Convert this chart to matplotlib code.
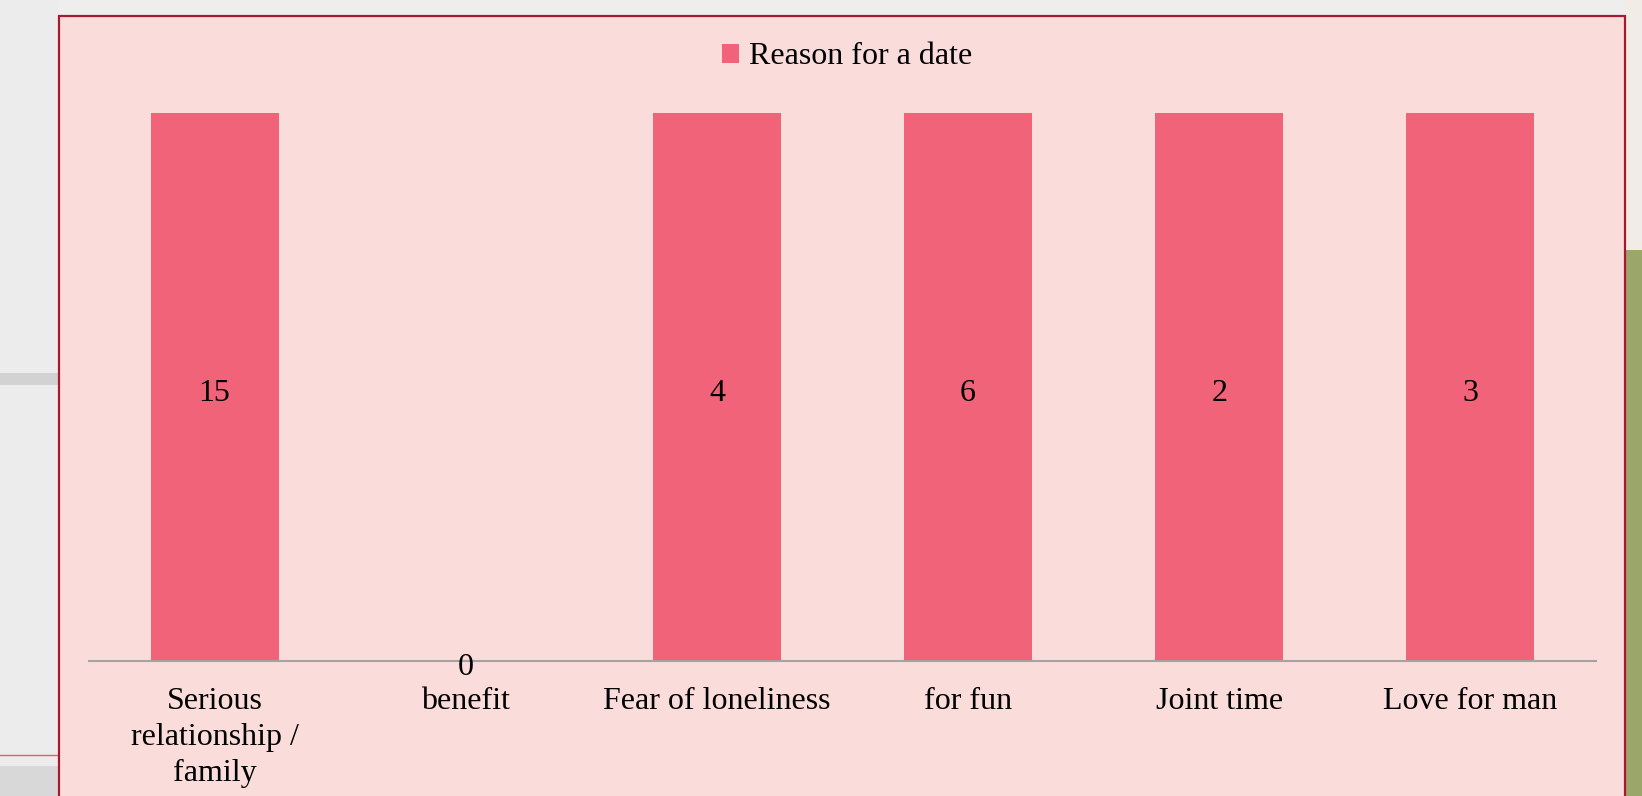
"""
Bar chart: reasons for a date (survey counts), pink slide style.
"""

import matplotlib
matplotlib.use("Agg")
import matplotlib.pyplot as plt
from matplotlib.patches import Rectangle
from matplotlib.lines import Line2D

# ── data ────────────────────────────────────────────────────────────────────
categories = ["Serious\nrelationship /\nfamily", "benefit", "Fear of loneliness",
              "for fun", "Joint time", "Love for man"]
counts = [15, 0, 4, 6, 2, 3]
series_name = "Reason for a date"
y_max = 1  # axis maximum of the original chart; taller bars are cut at the top

BG_CHART = "#FADCDB"
BAR = "#F06378"
BORDER = "#A8192E"
AXIS = "#A3A3A3"

plt.rcParams.update({
    "font.family": ["Liberation Serif", "DejaVu Serif"],
    "font.size": 23,
})

W, H = 1642, 796
fig = plt.figure(figsize=(W / 100, H / 100), dpi=100)
fig.patch.set_facecolor("#EEEEEE")

# ── slide background (rough stand-in for the photo behind the chart) ────────
fig.add_artist(Rectangle((0, 0), 59 / W, 1, transform=fig.transFigure,
                         facecolor="#ECECEC", edgecolor="none", zorder=-3))
fig.add_artist(Rectangle((0, 1 - 385 / H), 59 / W, 12 / H, transform=fig.transFigure,
                         facecolor="#D2D2D2", edgecolor="none", zorder=-3))
fig.add_artist(Rectangle((0, 0), 59 / W, 30 / H, transform=fig.transFigure,
                         facecolor="#D8D8D8", edgecolor="none", zorder=-3))
fig.add_artist(Rectangle((1625 / W, 0), 17 / W, 1, transform=fig.transFigure,
                         facecolor="#F1EDE6", edgecolor="none", zorder=-3))
fig.add_artist(Rectangle((1625 / W, 0), 17 / W, 1 - 250 / H, transform=fig.transFigure,
                         facecolor="#9AA66A", edgecolor="none", zorder=-3))
fig.add_artist(Line2D([0, 59 / W], [1 - 755 / H] * 2, transform=fig.transFigure,
                      color="#F05A5A", linewidth=1, zorder=-2))

# chart box
fig.add_artist(Rectangle((59 / W, -0.05), (1625 - 59) / W, 1.05 - 16 / H,
                         transform=fig.transFigure, facecolor=BG_CHART,
                         edgecolor=BORDER, linewidth=1.6, zorder=-1))

# ── bars ────────────────────────────────────────────────────────────────────
ax = fig.add_axes([89 / W, 1 - 661 / H, (1596 - 89) / W, (661 - 113) / H])
ax.set_facecolor("none")
x = list(range(len(categories)))
ax.bar(x, counts, width=0.51, color=BAR, label=series_name, zorder=2)
ax.set_xlim(-0.5, len(categories) - 0.5)
ax.set_ylim(0, y_max)

# value labels centred in the visible part of each bar
for xi, v in zip(x, counts):
    ax.annotate(str(v), (xi, min(v, y_max) / 2), xytext=(0, -4.5),
                textcoords="offset points", ha="center", va="center",
                fontsize=23, color="black", zorder=4)

for side in ["top", "right", "left"]:
    ax.spines[side].set_visible(False)
ax.spines["bottom"].set_color(AXIS)
ax.spines["bottom"].set_linewidth(1.5)
ax.spines["bottom"].set_zorder(3)
ax.set_yticks([])
ax.set_xticks(x)
ax.set_xticklabels(categories, linespacing=1.32)
ax.tick_params(axis="x", length=0, pad=19, labelsize=23)

fig.legend(loc="center", bbox_to_anchor=(847 / W, 1 - 57 / H), frameon=False,
           handlelength=0.55, handleheight=0.55, handletextpad=0.3, fontsize=23)

plt.savefig("out.png", dpi=100)
